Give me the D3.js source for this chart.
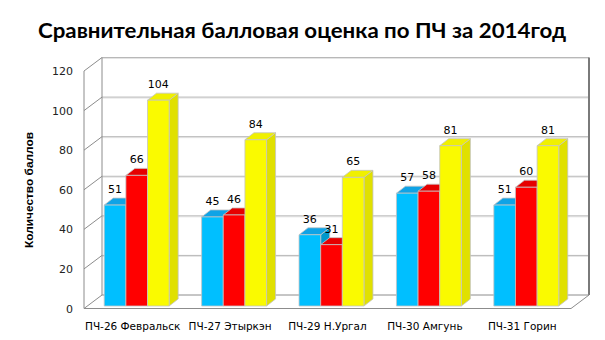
<!DOCTYPE html>
<html><head><meta charset="utf-8">
<script src="https://cdn.jsdelivr.net/npm/d3@7"></script>
<style>html,body{margin:0;padding:0;background:#fff;}svg{display:block;}</style>
</head><body>
<svg id="chart" width="605" height="340"></svg>
<script>
const title = "Сравнительная балловая оценка по ПЧ за 2014год";
const yTitle = "Количество баллов";
const categories = ["ПЧ-26 Февральск", "ПЧ-27 Этыркэн", "ПЧ-29 Н.Ургал", "ПЧ-30 Амгунь", "ПЧ-31 Горин"];
const seriesA = [51, 45, 36, 57, 51];
const seriesB = [66, 46, 31, 58, 60];
const seriesC = [104, 84, 65, 81, 81];
const yTicks = [0, 20, 40, 60, 80, 100, 120];
const seriesColors = [
  {front: "#00bfff", top: "#0fa3e6", side: "#0098cc"},
  {front: "#ff0000", top: "#e60000", side: "#cc0000"},
  {front: "#fafa00", top: "#f0f000", side: "#e0e000"}
];

const svg = d3.select("#chart");
const W = 605, H = 340;
const left = 84, right = 571, bottom = 308.5, topY = 71;
const depthX = 18, depthY = -13.5;      // wall depth
const barOffX = 4, barOffY = -2.5;      // bar front plane offset
const barDX = 9, barDY = -7;            // bar depth

const x0 = d3.scaleBand().domain(categories).range([left, right]).paddingInner(1/3).paddingOuter(1/6);
const x1 = d3.scaleBand().domain([0, 1, 2]).range([0, x0.bandwidth()]);
const y = d3.scaleLinear().domain([0, 120]).range([bottom, topY]);

// Title
svg.append("text").attr("x", 302).attr("y", 38).attr("text-anchor", "middle")
  .attr("font-family", "Lato, 'Open Sans', sans-serif").attr("font-weight", "bold")
  .attr("font-size", 21).attr("fill", "#000")
  .attr("textLength", 528).attr("lengthAdjust", "spacingAndGlyphs").text(title);

const grid = svg.append("g");
// back wall gridlines
yTicks.forEach(t => {
  if (t === 0) return;
  grid.append("line").attr("x1", left + depthX).attr("x2", right + depthX)
    .attr("y1", y(t) + depthY + 1).attr("y2", y(t) + depthY + 1)
    .attr("stroke", "#e4e4e4").attr("stroke-width", 1);
  grid.append("line").attr("x1", left + depthX).attr("x2", right + depthX)
    .attr("y1", y(t) + depthY).attr("y2", y(t) + depthY)
    .attr("stroke", "#b8b8b8").attr("stroke-width", 1);
});
// side wall diagonals
yTicks.forEach(t => {
  grid.append("line").attr("x1", left).attr("y1", y(t))
    .attr("x2", left + depthX).attr("y2", y(t) + depthY)
    .attr("stroke", "#8c8c8c").attr("stroke-width", 1);
});
// side wall verticals
grid.append("line").attr("x1", left).attr("x2", left).attr("y1", y(120)).attr("y2", y(0))
  .attr("stroke", "#8c8c8c").attr("stroke-width", 1);
grid.append("line").attr("x1", left + depthX).attr("x2", left + depthX)
  .attr("y1", y(120) + depthY).attr("y2", y(0) + depthY)
  .attr("stroke", "#8c8c8c").attr("stroke-width", 1);
// back wall right edge
grid.append("line").attr("x1", right + depthX).attr("x2", right + depthX)
  .attr("y1", y(120) + depthY).attr("y2", y(0) + depthY)
  .attr("stroke", "#7a7a7a").attr("stroke-width", 2);
// floor
grid.append("line").attr("x1", left + depthX).attr("x2", right + depthX)
  .attr("y1", y(0) + depthY).attr("y2", y(0) + depthY)
  .attr("stroke", "#8c8c8c").attr("stroke-width", 1);
grid.append("line").attr("x1", left).attr("x2", right)
  .attr("y1", y(0)).attr("y2", y(0)).attr("stroke", "#8c8c8c").attr("stroke-width", 1);
grid.append("line").attr("x1", right).attr("y1", y(0))
  .attr("x2", right + depthX).attr("y2", y(0) + depthY)
  .attr("stroke", "#8c8c8c").attr("stroke-width", 1);

// Y tick labels
svg.append("g").selectAll("text").data(yTicks).join("text")
  .attr("x", 73).attr("y", d => y(d) + 4).attr("text-anchor", "end")
  .attr("font-family", "'DejaVu Sans', sans-serif").attr("font-size", 11).attr("fill", "#222")
  .text(d => d);

// Y axis title
svg.append("text").attr("transform", "translate(33,190) rotate(-90)")
  .attr("text-anchor", "middle").attr("font-family", "'Liberation Sans', Arial, sans-serif")
  .attr("font-weight", "bold").attr("font-size", 11).attr("fill", "#000")
  .attr("textLength", 116).attr("lengthAdjust", "spacingAndGlyphs").text(yTitle);

// Bars
const allSeries = [seriesA, seriesB, seriesC];
const barsG = svg.append("g");
const labels = [];
categories.forEach((cat, ci) => {
  allSeries.forEach((ser, si) => {
    const v = ser[ci];
    const bx = x0(cat) + x1(si) + barOffX;
    const bw = x1.bandwidth();
    const yb = y(0) + barOffY, yt = y(v) + barOffY;
    const c = seriesColors[si];
    const g = barsG.append("g").attr("stroke", "#c4c4c4").attr("stroke-width", 0.8).attr("stroke-linejoin", "round");
    // side
    g.append("path").attr("fill", c.side)
      .attr("d", `M${bx + bw},${yb} L${bx + bw + barDX},${yb + barDY} L${bx + bw + barDX},${yt + barDY} L${bx + bw},${yt} Z`);
    // top
    g.append("path").attr("fill", c.top)
      .attr("d", `M${bx},${yt} L${bx + barDX},${yt + barDY} L${bx + bw + barDX},${yt + barDY} L${bx + bw},${yt} Z`);
    // front
    g.append("rect").attr("x", bx).attr("y", yt).attr("width", bw).attr("height", yb - yt).attr("fill", c.front);
    labels.push({x: bx + bw / 2, y: yt - 12, v});
  });
});

// Data labels
svg.append("g").selectAll("text").data(labels).join("text")
  .attr("x", d => d.x).attr("y", d => d.y).attr("text-anchor", "middle")
  .attr("font-family", "'DejaVu Sans', sans-serif").attr("font-size", 11).attr("fill", "#000")
  .text(d => d.v);

// Category labels
svg.append("g").selectAll("text").data(categories).join("text")
  .attr("x", d => x0(d) + x0.bandwidth() / 2).attr("y", 330).attr("text-anchor", "middle")
  .attr("font-family", "'DejaVu Sans', sans-serif").attr("font-size", 10.5).attr("fill", "#000")
  .text(d => d);
</script>
</body></html>
